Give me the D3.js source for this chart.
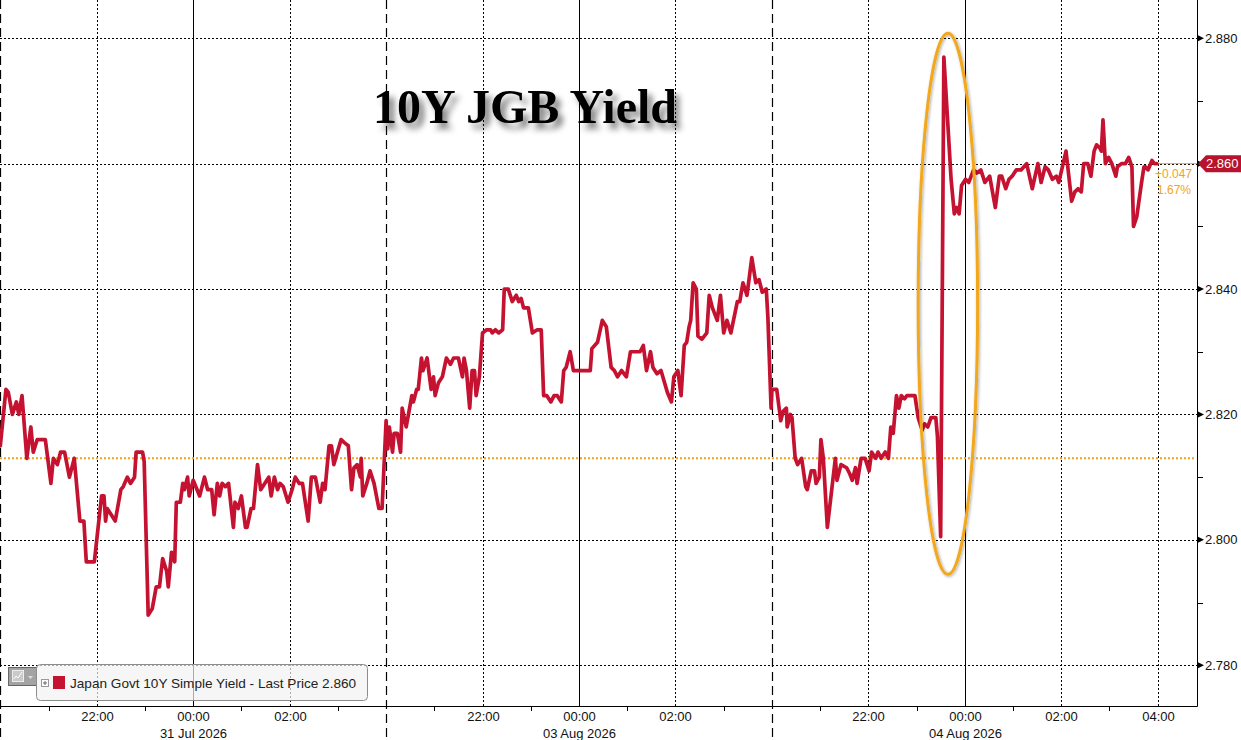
<!DOCTYPE html>
<html>
<head>
<meta charset="utf-8">
<script src="https://cdn.jsdelivr.net/npm/d3@7"></script>
<style>
    html, body { margin: 0; padding: 0; background: #fff; }
    svg { display: block; }
    .lbl { font-family: "Liberation Sans", Arial, sans-serif; font-size: 13px; fill: #111; }
</style>
</head>
<body>
<svg id="chart" width="1241" height="740"></svg>
<script>
(function () {

    // sessions shown on the compressed time axis (20:00 -> 04:00 each)
    var sessionStarts = ['2026-07-30 20:00', '2026-08-02 20:00', '2026-08-03 20:00'];
    var sessionEnds   = ['2026-07-31 04:00', '2026-08-03 04:00', '2026-08-04 04:49'];

    // minutes after session start, and yield
    var s1Min = [0,7,10,15,20,23,27,33,38,41,46,50,56,63,66,71,75,80,86,92,
        99,104,107,117,126,129,131,133,138,143,150,153,158,162,167,169,173,177,179,184,
        189,194,198,202,207,209,213,217,219,224,227,229,233,235,240,248,254,258,263,266,
        270,273,276,280,284,290,292,296,300,305,307,312,315,320,324,329,334,337,341,345,
        348,352,358,363,367,372,376,383,387,392,398,401,404,409,412,415,424,428,433,437,
        440,444,448,449,451,456,460,465,471,475];
    var s1Yld = [2.815,2.824,2.8235,2.820,2.822,2.820,2.823,2.813,2.818,2.814,
        2.816,2.816,2.816,2.809,2.813,2.812,2.814,2.814,2.810,2.813,
        2.803,2.803,2.7965,2.7965,2.807,2.807,2.803,2.805,2.804,2.803,
        2.808,2.8085,2.810,2.809,2.810,2.814,2.814,2.814,2.8125,2.788,
        2.789,2.7925,2.7925,2.797,2.795,2.7925,2.798,2.7965,2.806,2.806,
        2.809,2.808,2.810,2.807,2.8095,2.807,2.810,2.808,2.808,2.804,
        2.809,2.807,2.809,2.8085,2.809,2.802,2.806,2.805,2.807,2.802,
        2.802,2.805,2.805,2.812,2.808,2.809,2.810,2.807,2.810,2.808,
        2.809,2.8085,2.806,2.808,2.810,2.809,2.809,2.803,2.810,2.810,
        2.806,2.809,2.808,2.815,2.815,2.812,2.816,2.8155,2.815,2.808,
        2.8115,2.812,2.810,2.813,2.807,2.809,2.811,2.809,2.805,2.805];

    var s2Min = [0,2,4,8,10,14,18,20,25,32,34,38,40,44,46,51,56,59,61,65,
        70,75,80,84,90,95,97,100,104,107,110,112,116,120,125,130,132,136,140,145,
        147,152,157,162,165,168,171,177,182,188,193,196,200,205,209,213,218,221,224,229,
        233,239,254,256,263,269,274,280,284,288,293,299,304,309,316,320,324,329,332,337,
        342,350,355,358,363,367,371,374,377,379,382,386,388,393,399,402,406,412,416,420,
        424,429,437,440,444,449,455,460,464,468,473,475,479];
    var s2Yld = [2.819,2.8145,2.818,2.814,2.817,2.817,2.814,2.821,2.818,2.823,
        2.822,2.824,2.824,2.829,2.827,2.829,2.824,2.826,2.823,2.825,
        2.826,2.829,2.828,2.829,2.829,2.826,2.829,2.827,2.821,2.827,
        2.827,2.823,2.826,2.833,2.8335,2.8335,2.833,2.8335,2.833,2.8335,
        2.840,2.840,2.838,2.839,2.838,2.8385,2.837,2.837,2.833,2.8335,
        2.8335,2.823,2.823,2.822,2.823,2.823,2.822,2.827,2.8275,2.830,
        2.827,2.827,2.827,2.8305,2.8315,2.835,2.834,2.8275,2.827,2.826,
        2.827,2.826,2.830,2.830,2.830,2.831,2.827,2.830,2.8275,2.8265,
        2.827,2.8235,2.822,2.826,2.827,2.823,2.831,2.8315,2.834,2.835,
        2.841,2.840,2.8325,2.832,2.833,2.839,2.837,2.835,2.839,2.833,
        2.835,2.833,2.838,2.838,2.841,2.839,2.845,2.841,2.8415,2.8395,
        2.840,2.8355,2.821];

    var s3Min = [0,6,11,14,18,19,23,25,29,32,37,42,44,49,53,55,59,61,64,69,
        79,81,86,93,97,100,104,106,111,116,121,124,129,132,136,141,145,148,151,155,
        158,161,165,168,173,178,182,187,190,194,198,204,206,210,214,223,227,230,233,236,
        241,245,251,255,260,265,271,278,283,286,291,295,299,304,310,317,324,331,335,340,
        344,349,354,357,366,373,377,381,385,388,393,397,401,404,408,410,412,415,419,423,
        428,430,435,440,444,448,450,454,460,463,465,468,473,476,479];
    var s3Yld = [2.824,2.824,2.819,2.8205,2.821,2.818,2.820,2.8195,2.813,2.812,
        2.813,2.8085,2.808,2.811,2.811,2.809,2.810,2.816,2.813,2.802,
        2.813,2.8095,2.812,2.8115,2.8105,2.8095,2.8115,2.809,2.813,2.813,
        2.811,2.814,2.813,2.814,2.813,2.814,2.813,2.818,2.817,2.823,
        2.821,2.823,2.8225,2.823,2.823,2.823,2.8195,2.8175,2.8185,2.818,
        2.8195,2.8195,2.8165,2.8005,2.877,2.8575,2.852,2.853,2.852,2.8565,
        2.8575,2.857,2.859,2.8585,2.859,2.857,2.858,2.853,2.858,2.858,
        2.856,2.8575,2.858,2.859,2.859,2.860,2.856,2.860,2.857,2.8595,
        2.859,2.8575,2.858,2.857,2.862,2.854,2.8555,2.856,2.8555,2.860,
        2.860,2.858,2.862,2.863,2.8625,2.862,2.867,2.860,2.861,2.860,
        2.858,2.8595,2.860,2.860,2.861,2.8595,2.850,2.8515,2.857,2.8595,
        2.8595,2.859,2.8605,2.860,2.860];

    var yMajorTicks = [2.78, 2.80, 2.82, 2.84, 2.86, 2.88];
    var yMinorTicks = [2.79, 2.81, 2.83, 2.85, 2.87];
    var prevClose = 2.813;
    var lastPrice = 2.860;
    var changeLabels = ['+0.047', '1.67%'];
    var titleText = '10Y JGB Yield';
    var legendText = 'Japan Govt 10Y Simple Yield - Last Price 2.860';
    // highlighted spike: time window and yield window
    var spikeTimes = ['2026-08-03 23:02', '2026-08-04 00:16'];
    var spikeYields = [2.7945, 2.8808];

    var red = '#c41230', orange = '#f0a41e';
    var W = 1241, plotR = 1197, plotB = 706;

    var parse = d3.utcParse('%Y-%m-%d %H:%M');
    var starts = sessionStarts.map(parse), ends = sessionEnds.map(parse);

    var sessions = [[s1Min, s1Yld], [s2Min, s2Yld], [s3Min, s3Yld]];
    var points = [];
    sessions.forEach(function (s, i) {
        s[0].forEach(function (m, j) {
            points.push({ t: new Date(+starts[i] + m * 60000), v: s[1][j] });
        });
    });

    var sw = 385.8;
    var x = d3.scaleUtc()
        .domain([starts[0], ends[0], starts[1], ends[1], starts[2], ends[2]])
        .range([0.3, 0.3 + sw, 0.3 + sw, 0.3 + 2 * sw, 0.3 + 2 * sw, plotR]);
    var y = d3.scaleLinear().domain([2.7735, 2.8861]).range([plotB, 0]);

    var svg = d3.select('#chart');
    var defs = svg.append('defs');

    var sh = defs.append('filter').attr('id', 'tshadow')
        .attr('x', '-10%').attr('y', '-20%').attr('width', '130%').attr('height', '160%');
    sh.append('feGaussianBlur').attr('in', 'SourceAlpha').attr('stdDeviation', 3).attr('result', 'b');
    sh.append('feOffset').attr('in', 'b').attr('dx', 5).attr('dy', 6).attr('result', 'o');
    sh.append('feComponentTransfer').attr('in', 'o').attr('result', 'oc')
        .append('feFuncA').attr('type', 'linear').attr('slope', 0.5);
    var m1 = sh.append('feMerge');
    m1.append('feMergeNode').attr('in', 'oc');
    m1.append('feMergeNode').attr('in', 'SourceGraphic');

    var gl = defs.append('filter').attr('id', 'glow')
        .attr('x', '-50%').attr('y', '-10%').attr('width', '200%').attr('height', '120%');
    gl.append('feGaussianBlur').attr('in', 'SourceAlpha').attr('stdDeviation', 1.6).attr('result', 'b');
    gl.append('feOffset').attr('in', 'b').attr('dx', 1).attr('dy', 1).attr('result', 'o');
    gl.append('feComponentTransfer').attr('in', 'o').attr('result', 'oc')
        .append('feFuncA').attr('type', 'linear').attr('slope', 0.35);
    var m2 = gl.append('feMerge');
    m2.append('feMergeNode').attr('in', 'oc');
    m2.append('feMergeNode').attr('in', 'SourceGraphic');

    // title (gridlines pass over it)
    svg.append('text')
        .attr('x', 373).attr('y', 123)
        .attr('filter', 'url(#tshadow)')
        .style('font-family', '"Liberation Serif", "Times New Roman", serif')
        .style('font-weight', 'bold').style('font-size', '48px').style('fill', '#000')
        .text(titleText);

    var grid = svg.append('g');
    var px = function (v) { return Math.round(v) + 0.5; };

    grid.selectAll('line.h').data(yMajorTicks).enter().append('line')
        .attr('x1', 0).attr('x2', plotR)
        .attr('y1', function (d) { return px(y(d)); })
        .attr('y2', function (d) { return px(y(d)); })
        .attr('stroke', '#000').attr('stroke-dasharray', '2,2');

    // hour ticks for each session
    var hours = [];
    starts.forEach(function (s, i) {
        d3.utcHour.range(s, ends[i]).forEach(function (h) {
            hours.push({ t: h, h: h.getUTCHours(), first: +h === +s });
        });
    });

    var xAxisG = svg.append('g');
    hours.forEach(function (d) {
        var xv = px(x(d.t));
        if (d.first) {
            grid.append('line').attr('x1', Math.max(xv, 0.5)).attr('x2', Math.max(xv, 0.5))
                .attr('y1', 0).attr('y2', 740)
                .attr('stroke', '#000').attr('stroke-width', 1.2).attr('stroke-dasharray', '9,5');
        } else if (d.h % 2 === 0) {
            grid.append('line').attr('x1', xv).attr('x2', xv).attr('y1', 0).attr('y2', plotB)
                .attr('stroke', '#000')
                .attr('stroke-dasharray', d.h === 0 ? null : '2,2');
            xAxisG.append('text').attr('class', 'lbl')
                .attr('x', xv).attr('y', 721).attr('text-anchor', 'middle')
                .text(d3.utcFormat('%H:%M')(d.t));
            if (d.h === 0) {
                xAxisG.append('text').attr('class', 'lbl')
                    .attr('x', xv).attr('y', 738).attr('text-anchor', 'middle')
                    .text(d3.utcFormat('%d %b %Y')(d.t));
            }
        } else {
            xAxisG.append('line').attr('x1', xv).attr('x2', xv)
                .attr('y1', plotB).attr('y2', plotB + 5).attr('stroke', '#000');
        }
    });

    // previous close
    svg.append('line')
        .attr('x1', 0).attr('x2', plotR - 2)
        .attr('y1', y(prevClose)).attr('y2', y(prevClose))
        .attr('stroke', orange).attr('stroke-width', 2).attr('stroke-dasharray', '2,2');

    // last price guide
    var last = points[points.length - 1];
    svg.append('line')
        .attr('x1', x(last.t)).attr('x2', plotR)
        .attr('y1', y(lastPrice)).attr('y2', y(lastPrice))
        .attr('stroke', orange).attr('stroke-width', 1);

    var line = d3.line()
        .x(function (d) { return x(d.t); })
        .y(function (d) { return y(d.v); });

    svg.append('path')
        .datum(points)
        .attr('d', line)
        .attr('fill', 'none')
        .attr('stroke', red)
        .attr('stroke-width', 3.7)
        .attr('stroke-linejoin', 'round')
        .attr('stroke-linecap', 'round');

    // spike highlight
    var ex0 = x(parse(spikeTimes[0])), ex1 = x(parse(spikeTimes[1]));
    var ey0 = y(spikeYields[1]), ey1 = y(spikeYields[0]);
    svg.append('ellipse')
        .attr('cx', (ex0 + ex1) / 2).attr('cy', (ey0 + ey1) / 2)
        .attr('rx', (ex1 - ex0) / 2).attr('ry', (ey1 - ey0) / 2)
        .attr('fill', 'none').attr('stroke', '#f2a81c').attr('stroke-width', 3)
        .attr('filter', 'url(#glow)');

    svg.append('text').attr('class', 'lbl')
        .attr('x', plotR - 42).attr('y', y(lastPrice) + 14)
        .style('font-size', '12px').style('fill', orange).text(changeLabels[0]);
    svg.append('text').attr('class', 'lbl')
        .attr('x', plotR - 40).attr('y', y(lastPrice) + 30)
        .style('font-size', '12px').style('fill', orange).text(changeLabels[1]);

    // axes
    svg.append('line').attr('x1', 0).attr('x2', plotR + 0.5)
        .attr('y1', plotB + 0.5).attr('y2', plotB + 0.5).attr('stroke', '#000');
    svg.append('line').attr('x1', plotR + 0.5).attr('x2', plotR + 0.5)
        .attr('y1', 0).attr('y2', plotB + 0.5).attr('stroke', '#000');

    var yAxisG = svg.append('g');
    yMinorTicks.forEach(function (d) {
        yAxisG.append('line').attr('x1', plotR).attr('x2', plotR + 6)
            .attr('y1', px(y(d))).attr('y2', px(y(d))).attr('stroke', '#000');
    });
    yMajorTicks.forEach(function (d) {
        var yv = y(d);
        yAxisG.append('path')
            .attr('d', 'M' + plotR + ',' + (yv - 3.5) + 'L' + (plotR + 7) + ',' + yv + 'L' + plotR + ',' + (yv + 3.5) + 'Z')
            .attr('fill', '#000');
        yAxisG.append('text').attr('class', 'lbl')
            .attr('x', plotR + 8).attr('y', yv + 4.5)
            .text(d3.format('.3f')(d));
    });

    // last price tag
    var ly = y(lastPrice);
    yAxisG.append('path')
        .attr('d', 'M' + (plotR + 1) + ',' + ly + 'L' + (plotR + 9) + ',' + (ly - 8.5) + 'L' + W + ',' + (ly - 8.5) +
            'L' + W + ',' + (ly + 8.5) + 'L' + (plotR + 9) + ',' + (ly + 8.5) + 'Z')
        .attr('fill', '#b8122c');
    yAxisG.append('text').attr('class', 'lbl')
        .attr('x', plotR + 9).attr('y', ly + 4.5)
        .style('fill', '#fff').text(d3.format('.3f')(lastPrice));

    // legend
    var lg = svg.append('g');
    lg.append('rect').attr('x', 8.5).attr('y', 667.5).attr('width', 28).attr('height', 18)
        .attr('fill', '#a3a3a3').attr('stroke', '#666');
    lg.append('rect').attr('x', 12.5).attr('y', 670.5).attr('width', 11).attr('height', 11)
        .attr('fill', '#c9c9c9').attr('stroke', '#eee');
    lg.append('path').attr('d', 'M14,679 L16,676 L18,678 L22,672')
        .attr('fill', 'none').attr('stroke', '#fff').attr('stroke-width', 1);
    lg.append('path').attr('d', 'M28,676 L33,676 L30.5,679 Z').attr('fill', '#ddd');

    lg.append('rect').attr('x', 36.5).attr('y', 664.5).attr('width', 331).attr('height', 36)
        .attr('rx', 4).attr('fill', '#f2f2f2').attr('fill-opacity', 0.7).attr('stroke', '#8c8c8c');
    lg.append('rect').attr('x', 41.5).attr('y', 679.5).attr('width', 7).attr('height', 7)
        .attr('fill', '#fff').attr('stroke', '#999');
    lg.append('path').attr('d', 'M43,683 L47,683 M45,681 L45,685').attr('stroke', '#666');
    lg.append('rect').attr('x', 53).attr('y', 676).attr('width', 12).attr('height', 13).attr('fill', red);
    lg.append('text').attr('class', 'lbl')
        .attr('x', 70).attr('y', 688)
        .style('font-size', '13.6px').style('fill', '#222')
        .text(legendText);

})();
</script>
</body>
</html>
